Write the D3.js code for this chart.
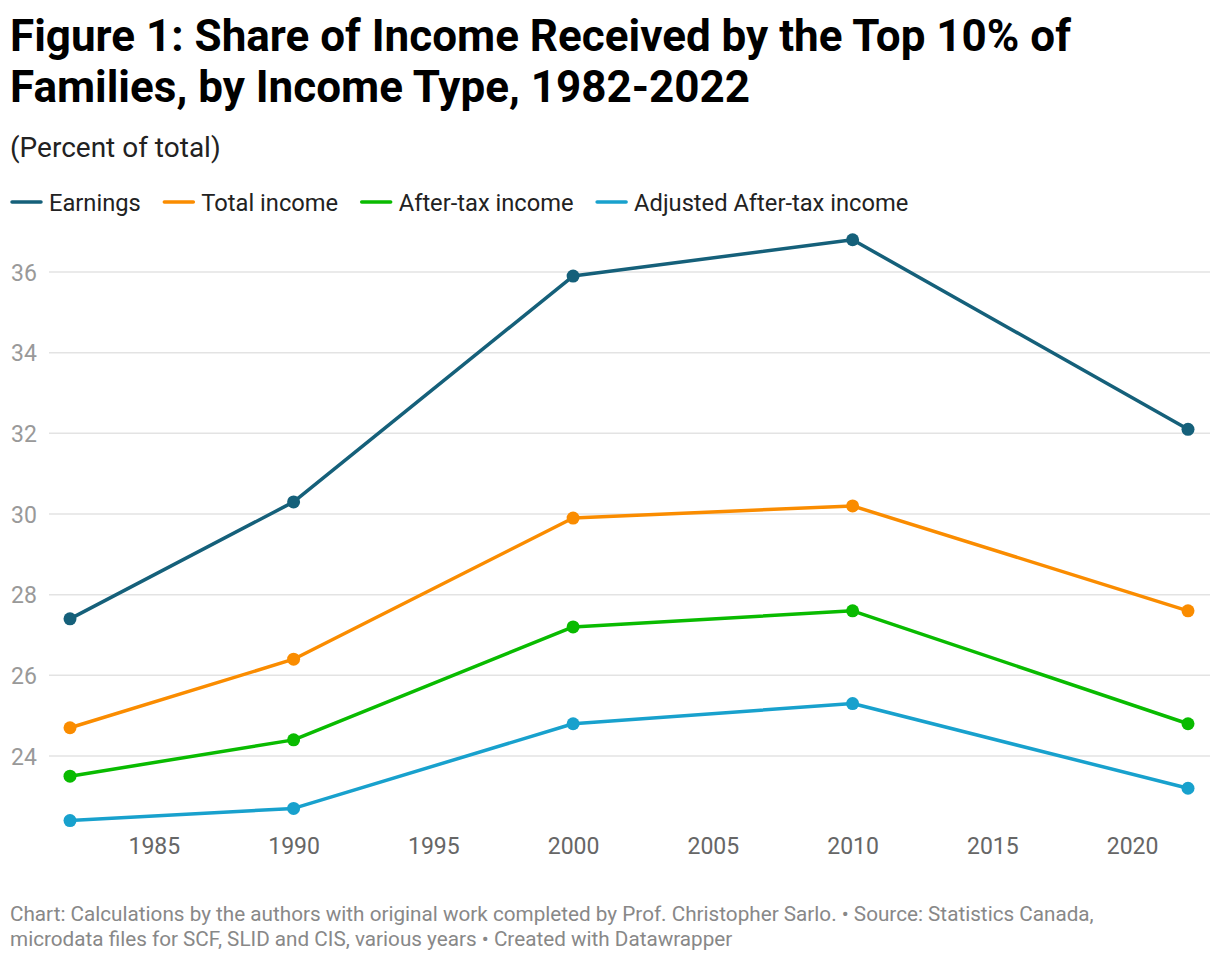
<!DOCTYPE html>
<html>
<head>
<meta charset="utf-8">
<script src="https://cdn.jsdelivr.net/npm/d3@7"></script>
<style>
    body { margin: 0; background: #fff; font-family: Roboto, sans-serif; }
    svg text { font-family: Roboto, sans-serif; }
</style>
</head>
<body>
<svg id="chart" width="1220" height="962"></svg>
<script>
var years = [1982, 1990, 2000, 2010, 2022];
var earnings = [27.4, 30.3, 35.9, 36.8, 32.1];
var totalIncome = [24.7, 26.4, 29.9, 30.2, 27.6];
var afterTax = [23.5, 24.4, 27.2, 27.6, 24.8];
var adjustedAfterTax = [22.4, 22.7, 24.8, 25.3, 23.2];
var seriesNames = ['Earnings', 'Total income', 'After-tax income', 'Adjusted After-tax income'];
var seriesColors = ['#15607a', '#fa8c00', '#09bb00', '#18a1cd'];
var yTicks = [24, 26, 28, 30, 32, 34, 36];
var xTicks = [1985, 1990, 1995, 2000, 2005, 2010, 2015, 2020];

(function () {
    var svg = d3.select('#chart');
    var allSeries = [earnings, totalIncome, afterTax, adjustedAfterTax];

    var x = d3.scaleLinear().domain([1982, 2022]).range([70, 1188]);
    var y = d3.scaleLinear().domain([24, 36]).range([756, 272]);

    // titles
    svg.append('text').attr('x', 10).attr('y', 51)
        .attr('font-size', 44).attr('font-weight', 700).attr('fill', '#000')
        .text('Figure 1: Share of Income Received by the Top 10% of');
    svg.append('text').attr('x', 10).attr('y', 102)
        .attr('font-size', 44).attr('font-weight', 700).attr('fill', '#000')
        .text('Families, by Income Type, 1982-2022');
    svg.append('text').attr('x', 10).attr('y', 157)
        .attr('font-size', 28).attr('fill', '#222')
        .text('(Percent of total)');

    // legend
    var legend = svg.append('g');
    var lx = 11;
    seriesNames.forEach(function (name, i) {
        legend.append('line')
            .attr('x1', lx + 1).attr('x2', lx + 30)
            .attr('y1', 202).attr('y2', 202)
            .attr('stroke', seriesColors[i]).attr('stroke-width', 3.5)
            .attr('stroke-linecap', 'round');
        var t = legend.append('text')
            .attr('x', lx + 38).attr('y', 210.5)
            .attr('font-size', 23.7).attr('fill', '#222')
            .text(name);
        lx += 38 + t.node().getComputedTextLength() + 22.5;
    });

    // grid + y labels
    svg.append('g').selectAll('line').data(yTicks).enter()
        .append('line')
        .attr('x1', 49).attr('x2', 1210)
        .attr('y1', function (d) { return y(d); })
        .attr('y2', function (d) { return y(d); })
        .attr('stroke', '#e3e3e3').attr('stroke-width', 1.5);

    svg.append('g').selectAll('text').data(yTicks).enter()
        .append('text')
        .attr('x', 11)
        .attr('y', function (d) { return y(d) + 8.5; })
        .attr('font-size', 23).attr('fill', '#999')
        .text(function (d) { return d; });

    // x axis labels
    var xAxis = d3.axisBottom(x).tickValues(xTicks).tickSize(0).tickPadding(0)
        .tickFormat(d3.format('d'));
    var gx = svg.append('g').attr('transform', 'translate(0,838)').call(xAxis);
    gx.select('.domain').remove();
    gx.selectAll('text')
        .attr('font-size', 23).attr('fill', '#666')
        .attr('font-family', 'Roboto, sans-serif')
        .attr('dy', '0.71em');

    // lines
    var line = d3.line()
        .x(function (d, i) { return x(years[i]); })
        .y(function (d) { return y(d); });

    allSeries.forEach(function (vals, i) {
        var g = svg.append('g');
        g.append('path')
            .attr('d', line(vals))
            .attr('fill', 'none')
            .attr('stroke', seriesColors[i])
            .attr('stroke-width', 3.5)
            .attr('stroke-linejoin', 'round');
        g.selectAll('circle').data(vals).enter()
            .append('circle')
            .attr('cx', function (d, j) { return x(years[j]); })
            .attr('cy', function (d) { return y(d); })
            .attr('r', 6.5)
            .attr('fill', seriesColors[i]);
    });

    // notes
    svg.append('text').attr('x', 10).attr('y', 921)
        .attr('font-size', 20.7).attr('fill', '#888')
        .text('Chart: Calculations by the authors with original work completed by Prof. Christopher Sarlo. \u2022 Source: Statistics Canada,');
    svg.append('text').attr('x', 10).attr('y', 946)
        .attr('font-size', 20.7).attr('fill', '#888')
        .text('microdata files for SCF, SLID and CIS, various years \u2022 Created with Datawrapper');
})();
</script>
</body>
</html>
